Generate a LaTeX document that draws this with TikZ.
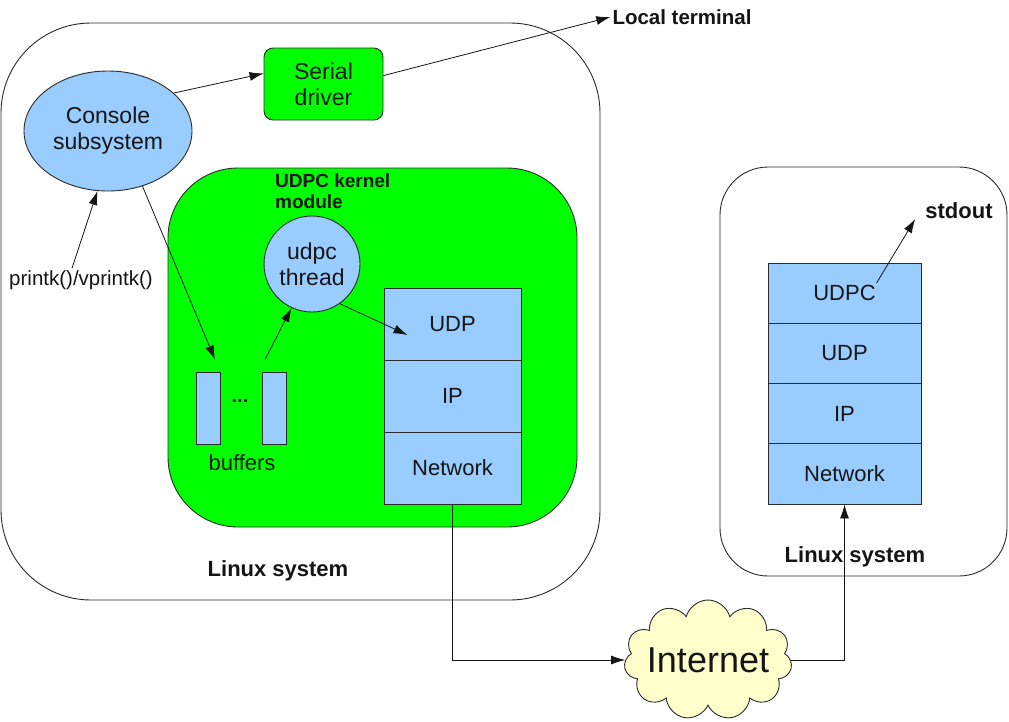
\documentclass[tikz,border=0pt]{standalone}
\usepackage{fontspec}
\setmainfont{Liberation Sans}
\usetikzlibrary{arrows.meta,shapes.geometric,shapes.symbols,calc}
\definecolor{PaleBlue}{HTML}{99CCFF}
\definecolor{Lime}{HTML}{00FF00}
\definecolor{Cream}{HTML}{FFFFCC}
\definecolor{Edge}{HTML}{2B2B2B}
\definecolor{Ink}{HTML}{151515}
\tikzset{
  sysbox/.style={draw=Edge, line width=0.9pt, fill=white},
  modbox/.style={rounded corners=70pt, draw=Edge, line width=0.9pt, fill=Lime},
  greenbox/.style={rounded corners=9pt, draw=Edge, line width=0.9pt, fill=Lime, align=center, text=Ink, font=\fontsize{23}{26}\selectfont},
  bubble/.style={draw=Edge, line width=0.9pt, fill=PaleBlue, align=center, inner sep=0pt, text=Ink, font=\fontsize{23}{26}\selectfont},
  layer/.style={rectangle, draw=Edge, line width=0.9pt, fill=PaleBlue, minimum width=137pt, minimum height=72pt, inner sep=0pt, text=Ink, font=\fontsize{22}{26}\selectfont},
  buf/.style={rectangle, draw=Edge, line width=0.9pt, fill=PaleBlue, minimum width=24pt, minimum height=72pt, inner sep=0pt},
  caption/.style={text=Ink, inner sep=2pt, font=\bfseries\fontsize{22}{24}\selectfont},
  plain/.style={text=Ink, inner sep=2pt, font=\fontsize{20.5}{24}\selectfont},
  arr/.style={-{Latex[length=14pt,width=9pt]}, line width=0.8pt, draw=Ink}
}
\begin{document}
\begin{tikzpicture}[x=1pt,y=-1pt]
\useasboundingbox (0,0) rectangle (1009,721);
% the two machines
\node[sysbox,rounded corners=90pt,minimum width=599pt,minimum height=577pt] (lsys) at (300.5,311.5) {};
\node[sysbox,rounded corners=48pt,minimum width=287pt,minimum height=409pt] (rsys) at (863.5,371.5) {};
\node[modbox,minimum width=409pt,minimum height=359pt] (mod) at (372.5,347.5) {};
\node[caption,anchor=north west,align=left,font=\bfseries\fontsize{19}{21}\selectfont] (modname) at (273,172) {UDPC kernel\\module};
% left machine
\node[bubble,ellipse,minimum width=168pt,minimum height=120pt] (console) at (108,131) {Console\\subsystem};
\node[greenbox,minimum width=119pt,minimum height=72pt] (serial) at (323.5,84) {Serial\\driver};
\node[bubble,circle,minimum size=96pt] (udpc) at (312,264) {udpc\\thread};
\node[layer] (udp) at (452.5,324) {UDP};
\node[layer] (ip) at (452.5,396) {IP};
\node[layer] (net) at (452.5,468) {Network};
\node[buf] (buf1) at (208,408) {};
\node[buf] (buf2) at (274,408) {};
\node[caption,font=\bfseries\fontsize{20}{24}\selectfont] (dots) at (240,401) {...};
\node[plain,font=\fontsize{22}{26}\selectfont] (buflbl) at (242,463) {buffers};
\node[plain] (printk) at (81,280) {printk()/vprintk()};
\node[caption] (lname) at (278,571) {Linux system};
\node[caption,font=\bfseries\fontsize{20.5}{24}\selectfont] (local) at (682,17) {Local terminal};
% right machine
\node[layer,minimum width=153pt,minimum height=60.25pt] (rudpc) at (844.5,293.1) {UDPC};
\node[layer,minimum width=153pt,minimum height=60.25pt] (rudp) at (844.5,353.4) {UDP};
\node[layer,minimum width=153pt,minimum height=60.25pt] (rip) at (844.5,413.6) {IP};
\node[layer,minimum width=153pt,minimum height=60.25pt] (rnet) at (844.5,473.9) {Network};
\node[caption] (rname) at (855,557) {Linux system};
\node[caption] (stdout) at (959,211) {stdout};
% network
\node[cloud,cloud puffs=11,aspect=1.4,draw=Edge,line width=0.9pt,fill=Cream,inner xsep=-14pt,inner ysep=-6pt,minimum width=168pt,minimum height=120pt,text=Ink,font=\fontsize{36}{40}\selectfont] (inet) at (708,660) {Internet};
% connectors
\draw[arr] (console.30) -- (serial.170);
\draw[arr] (serial.8) -- (local.west);
\draw[arr] ([xshift=-9pt]printk.north) -- (console.260);
\draw[arr] (console.-58) -- ([shift={(7,-12)}]buf1.north);
\draw[arr] ([shift={(-9,-12)}]buf2.north) -- (udpc.245);
\draw[arr] (udpc.-55) -- ([shift={(24,11)}]udp.west);
\draw[arr] (net.south) |- (inet.west);
\draw[arr] (inet.east) -| (rnet.south);
\draw[arr] ([shift={(32,-10)}]rudpc.center) -- ([shift={(-8,8)}]stdout.west);
\end{tikzpicture}
\end{document}
